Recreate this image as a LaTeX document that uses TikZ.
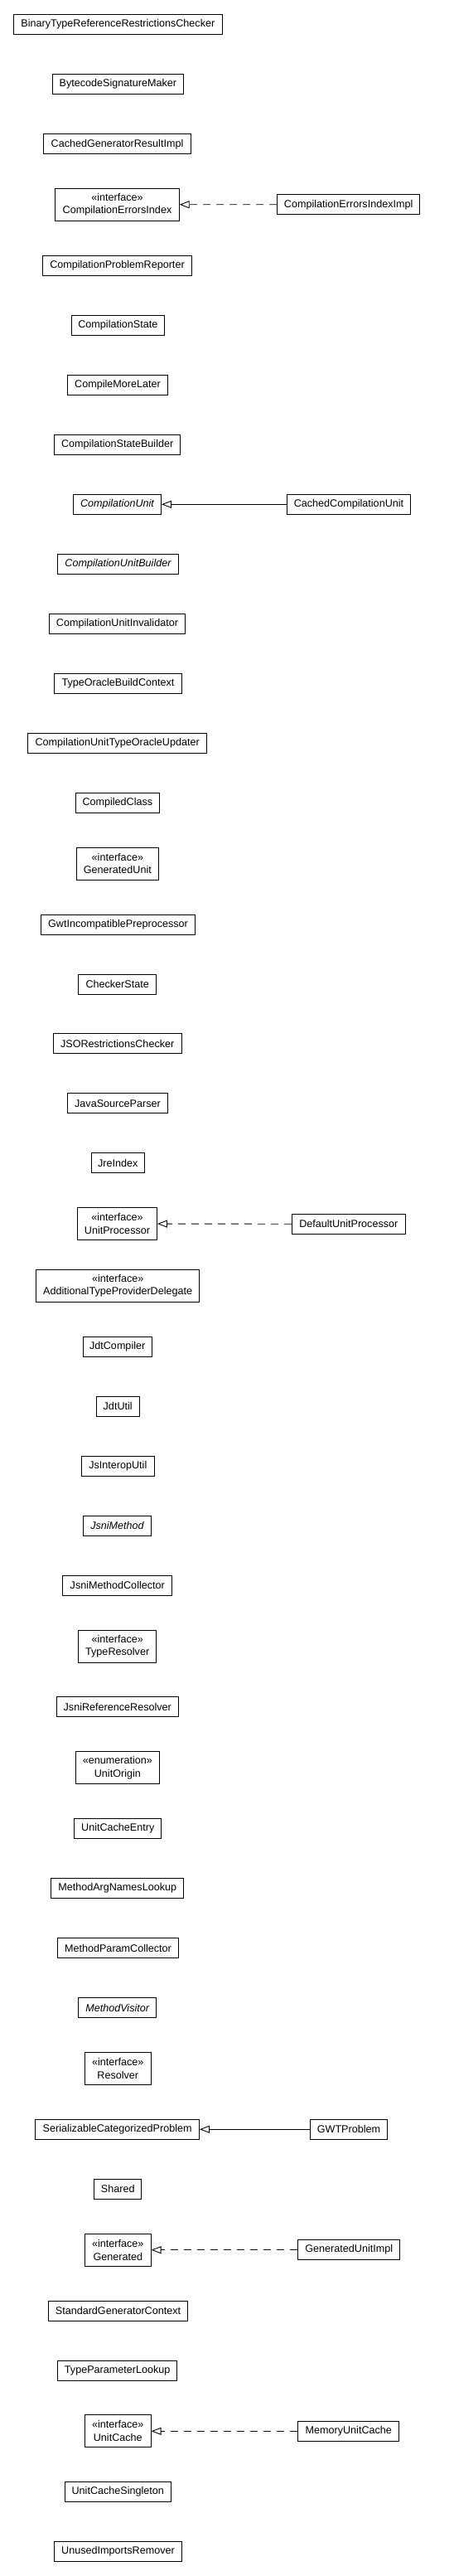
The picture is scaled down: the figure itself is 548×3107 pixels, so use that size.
\documentclass[tikz,border=0pt]{standalone}
\usepackage{fontspec}
\setmainfont{Liberation Sans}
\usetikzlibrary{arrows.meta}
\tikzset{
  ubox/.style={draw, line width=0.9pt, inner sep=0pt, minimum height=24pt, align=center,
    font=\fontsize{12.6}{15.7}\selectfont, fill=white},
  ibox/.style={ubox, minimum height=39pt},
  realize/.style={line width=0.9pt, dash pattern=on 9pt off 7pt, -{Triangle[open, length=12pt, width=9pt, line width=0.9pt]}},
  inherit/.style={line width=0.9pt, -{Triangle[open, length=12pt, width=9pt, line width=0.9pt]}}
}
\newcommand\ucls[6][ubox]{\node[#1, minimum width={#5pt-1pt}] (#2) at (#3,#4) {#6};}
\begin{document}
\begin{tikzpicture}[x=1pt,y=-1pt]
\useasboundingbox (0,0) rectangle (548,3107);
\ucls{btrrc}{142.35}{29.7}{253.3}{BinaryTypeReferenceRestrictionsChecker}
\ucls{bsm}{142.35}{101.7}{159.3}{BytecodeSignatureMaker}
\ucls{cgri}{141.5}{173.8}{178.4}{CachedGeneratorResultImpl}
\ucls[ibox]{cei}{141.5}{246.7}{150.4}{«interface»\\CompilationErrorsIndex}
\ucls{ceii}{420.7}{246.8}{173.3}{CompilationErrorsIndexImpl}
\ucls{cpr}{141.5}{320.3}{181}{CompilationProblemReporter}
\ucls{cs}{142.35}{392.2}{113.3}{CompilationState}
\ucls{cml}{142}{464.3}{121.4}{CompileMoreLater}
\ucls{csb}{141.7}{536.2}{152.7}{CompilationStateBuilder}
\ucls{cu}{141.5}{608.3}{107}{\itshape CompilationUnit}
\ucls{ccu}{421}{608.3}{150.6}{CachedCompilationUnit}
\ucls{cub}{142.5}{680.3}{147}{\itshape CompilationUnitBuilder}
\ucls{cui}{141.5}{752.2}{165.6}{CompilationUnitInvalidator}
\ucls{tobc}{142.5}{824.3}{154.4}{TypeOracleBuildContext}
\ucls{cutou}{141.7}{896.2}{216.7}{CompilationUnitTypeOracleUpdater}
\ucls{cc}{141.9}{968.2}{102.3}{CompiledClass}
\ucls[ibox]{gu}{141.9}{1041.5}{99.7}{«interface»\\GeneratedUnit}
\ucls{gip}{142.5}{1115}{187.6}{GwtIncompatiblePreprocessor}
\ucls{chs}{141.7}{1187}{94.7}{CheckerState}
\ucls{jsorc}{141.7}{1258.8}{156}{JSORestrictionsChecker}
\ucls{jsp}{142}{1330.8}{121.4}{JavaSourceParser}
\ucls{jri}{142.3}{1402.8}{65.3}{JreIndex}
\ucls[ibox]{up}{141.5}{1476}{97}{«interface»\\UnitProcessor}
\ucls{dup}{420.8}{1476.3}{137.7}{DefaultUnitProcessor}
\ucls[ibox]{atpd}{142.2}{1550.8}{197.7}{«interface»\\AdditionalTypeProviderDelegate}
\ucls{jdc}{141.7}{1624.2}{84}{JdtCompiler}
\ucls{jdu}{142.2}{1696.2}{53}{JdtUtil}
\ucls{jiu}{142.3}{1768.2}{88.7}{JsInteropUtil}
\ucls{jm}{141.5}{1840.2}{82.4}{\itshape JsniMethod}
\ucls{jmc}{141.8}{1912.2}{133}{JsniMethodCollector}
\ucls[ibox]{tr}{141.7}{1985.7}{94.7}{«interface»\\TypeResolver}
\ucls{jrr}{141.8}{2058.8}{148.3}{JsniReferenceResolver}
\ucls[ibox]{uo}{141.9}{2132}{102.3}{«enumeration»\\UnitOrigin}
\ucls{uce}{142.3}{2205.7}{106}{UnitCacheEntry}
\ucls{manl}{141.7}{2277.7}{160.7}{MethodArgNamesLookup}
\ucls{mpc}{142.5}{2349.7}{147}{MethodParamCollector}
\ucls{mv}{141.7}{2421.7}{94.7}{\itshape MethodVisitor}
\ucls[ibox]{res}{142.3}{2495}{80.7}{«interface»\\Resolver}
\ucls{scp}{141.7}{2568.2}{198.7}{SerializableCategorizedProblem}
\ucls{gwtp}{421}{2568.2}{94.6}{GWTProblem}
\ucls{sh}{142.3}{2640.2}{58}{Shared}
\ucls[ibox]{gen}{142.3}{2713.7}{80.7}{«interface»\\Generated}
\ucls{gui}{421.3}{2713.7}{124}{GeneratedUnitImpl}
\ucls{sgc}{142.5}{2787}{169.6}{StandardGeneratorContext}
\ucls{tpl}{141.7}{2859}{145.3}{TypeParameterLookup}
\ucls[ibox]{uc}{142.3}{2932.3}{80.7}{«interface»\\UnitCache}
\ucls{muc}{420.8}{2932.3}{123}{MemoryUnitCache}
\ucls{ucs}{142.3}{3005.7}{129.3}{UnitCacheSingleton}
\ucls{uir}{142.5}{3077.7}{154.4}{UnusedImportsRemover}
\draw[realize] (ceii) -- (cei);
\draw[inherit] (ccu) -- (cu);
\draw[realize] (dup) -- (up);
\draw[inherit] (gwtp) -- (scp);
\draw[realize] (gui) -- (gen);
\draw[realize] (muc) -- (uc);
\end{tikzpicture}
\end{document}
